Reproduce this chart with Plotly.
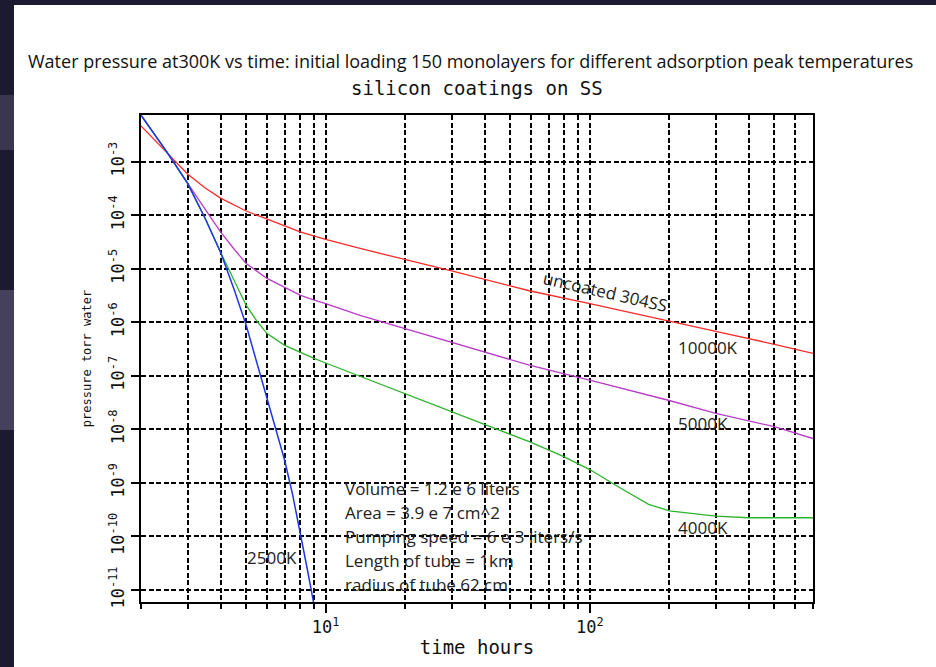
import plotly.graph_objects as go

# ---- data (log10 of pressure in torr vs time in hours) ----
t_blue = [2, 2.5, 3, 3.5, 4, 4.5, 5, 5.5, 6, 6.5, 7, 7.5, 8, 8.5, 9]
p_blue = [-2.13, -2.81, -3.40, -4.06, -4.69, -5.38, -6.05, -6.76, -7.42, -8.00, -8.58, -9.22, -9.89, -10.58, -11.23]

t_green = [2, 2.5, 3, 3.5, 4, 4.5, 5, 5.5, 6, 7, 8, 9, 10, 13.5, 20, 30, 50, 59, 79, 100, 130, 167, 200, 300, 400, 700]
p_green = [-2.13, -2.81, -3.40, -4.06, -4.69, -5.22, -5.68, -5.98, -6.21, -6.43, -6.56, -6.67, -6.76, -7.01, -7.33, -7.67, -8.09, -8.23, -8.50, -8.75, -9.09, -9.40, -9.52, -9.62, -9.65, -9.65]

t_purple = [2, 2.5, 3, 3.5, 4, 4.5, 5, 6, 7, 8, 9, 10, 13.5, 20, 30, 59, 100, 200, 300, 500, 700]
p_purple = [-2.13, -2.81, -3.40, -3.88, -4.31, -4.63, -4.90, -5.18, -5.35, -5.49, -5.58, -5.65, -5.87, -6.12, -6.37, -6.80, -7.08, -7.46, -7.70, -7.95, -8.17]

t_red = [2, 2.5, 3, 3.5, 4, 5, 6, 7, 8, 9, 10, 13.5, 20, 30, 50, 59, 100, 200, 300, 500, 700]
p_red = [-2.33, -2.82, -3.23, -3.49, -3.68, -3.92, -4.08, -4.20, -4.31, -4.39, -4.45, -4.62, -4.82, -5.04, -5.32, -5.41, -5.65, -5.97, -6.17, -6.41, -6.58]

x_major = [10, 100]
x_major_text = ["10<sup>1</sup>", "10<sup>2</sup>"]
x_minor = [2, 3, 4, 5, 6, 7, 8, 9, 20, 30, 40, 50, 60, 70, 80, 90, 200, 300, 400, 500, 600, 700]
y_exps = [-3, -4, -5, -6, -7, -8, -9, -10, -11]

curve_labels = ["uncoated 304SS", "10000K", "5000K", "4000K", "2500K"]
info_lines = ["Volume = 1.2 e 6 liters", "Area = 3.9 e 7 cm^2", "Pumping speed = 6 e 3 liters/s",
              "Length of tube = 1km", "radius of tube 62 cm"]

title1 = "Water pressure at300K vs time: initial loading 150 monolayers for different adsorption peak temperatures"
title2 = "silicon coatings on SS"

# ---- layout geometry (pixels) ----
W, H = 936, 667
L, R, T, B = 141, 813, 115, 602
PW, PH = R - L, B - T


def px(x):
    return (x - L) / PW


def py(y):
    return (B - y) / PH


MONO = "DejaVu Sans Mono"
SANS = "Open Sans"
TXT = "#222222"
GRID_DASH = "5px,2.5px"

fig = go.Figure()
fig.add_trace(go.Scatter(x=t_red, y=[10 ** v for v in p_red], mode="lines",
                         line=dict(color="#ff2a2a", width=1.3), showlegend=False))
fig.add_trace(go.Scatter(x=t_purple, y=[10 ** v for v in p_purple], mode="lines",
                         line=dict(color="#b83cc8", width=1.3), showlegend=False))
fig.add_trace(go.Scatter(x=t_green, y=[10 ** v for v in p_green], mode="lines",
                         line=dict(color="#2cb52c", width=1.3), showlegend=False))
fig.add_trace(go.Scatter(x=t_blue, y=[10 ** v for v in p_blue], mode="lines",
                         line=dict(color="#1f36e8", width=1.5), showlegend=False))

annotations = []
# titles
annotations.append(dict(text=title1, x=px(470), y=py(61), xref="paper", yref="paper",
                        showarrow=False, font=dict(family=SANS, size=18, color="#111111"),
                        xanchor="center", yanchor="middle"))
annotations.append(dict(text=title2, x=px(477), y=py(88), xref="paper", yref="paper",
                        showarrow=False, font=dict(family=MONO, size=19, color="#111111"),
                        xanchor="center", yanchor="middle"))
# curve labels
label_pos = [(605, 291, 13), (708, 347, 0), (703, 423, 0), (703, 527, 0), (272, 557, 0)]
for txt, (lx, ly, ang) in zip(curve_labels, label_pos):
    annotations.append(dict(text=txt, x=px(lx), y=py(ly), xref="paper", yref="paper",
                            showarrow=False, textangle=ang,
                            font=dict(family=SANS, size=17, color=TXT),
                            xanchor="center", yanchor="middle"))
# info block
for i, line in enumerate(info_lines):
    annotations.append(dict(text=line, x=px(343), y=py(488 + 24 * i), xref="paper", yref="paper",
                            showarrow=False, font=dict(family=SANS, size=17, color=TXT),
                            xanchor="left", yanchor="middle"))

shapes = [
    dict(type="rect", xref="paper", yref="paper", layer="below",
         x0=px(14), x1=px(W + 5), y0=py(H + 5), y1=py(5),
         fillcolor="white", line=dict(width=0)),
    dict(type="rect", xref="paper", yref="paper", layer="below",
         x0=px(-2), x1=px(14), y0=py(150), y1=py(95),
         fillcolor="#3a3650", line=dict(width=0)),
    dict(type="rect", xref="paper", yref="paper", layer="below",
         x0=px(-2), x1=px(14), y0=py(430), y1=py(290),
         fillcolor="#45405c", line=dict(width=0)),
]

fig.update_layout(
    width=W, height=H,
    margin=dict(l=L, r=W - R, t=T, b=H - B, pad=0),
    paper_bgcolor="#1c1a30",
    plot_bgcolor="white",
    showlegend=False,
    annotations=annotations,
    shapes=shapes,
)

fig.update_xaxes(
    type="log", range=[0.30103, 2.8451],
    tickmode="array", tickvals=x_major, ticktext=x_major_text,
    ticks="outside", ticklen=9, tickwidth=1.5, tickcolor="black",
    showgrid=True, gridcolor="black", gridwidth=1.6, griddash=GRID_DASH,
    minor=dict(tickmode="array", tickvals=x_minor, ticks="outside", ticklen=5,
               tickwidth=1.5, tickcolor="black", showgrid=True, gridcolor="black",
               gridwidth=1.6, griddash=GRID_DASH),
    showline=True, linecolor="black", linewidth=2, mirror=True,
    tickfont=dict(family=MONO, size=17, color="#111111"),
    title=dict(text="time hours", font=dict(family=MONO, size=19, color="#111111"), standoff=4),
    zeroline=False,
)

fig.update_yaxes(
    type="log", range=[-11.224, -2.127],
    tickmode="array", tickvals=[10.0 ** e for e in y_exps],
    ticktext=["10<sup>%d</sup>" % e for e in y_exps],
    tickangle=-90,
    ticks="outside", ticklen=8, tickwidth=1.5, tickcolor="black",
    showgrid=True, gridcolor="black", gridwidth=1.6, griddash=GRID_DASH,
    showline=True, linecolor="black", linewidth=2, mirror=True,
    tickfont=dict(family=MONO, size=17, color="#111111"),
    title=dict(text="pressure torr water", font=dict(family=MONO, size=12, color="#111111"), standoff=12),
    zeroline=False,
)

fig.write_html("out.html",
               config={"displayModeBar": False},
               post_script="document.body.style.margin='0';document.body.style.padding='0';"
                           "document.documentElement.style.margin='0';")
